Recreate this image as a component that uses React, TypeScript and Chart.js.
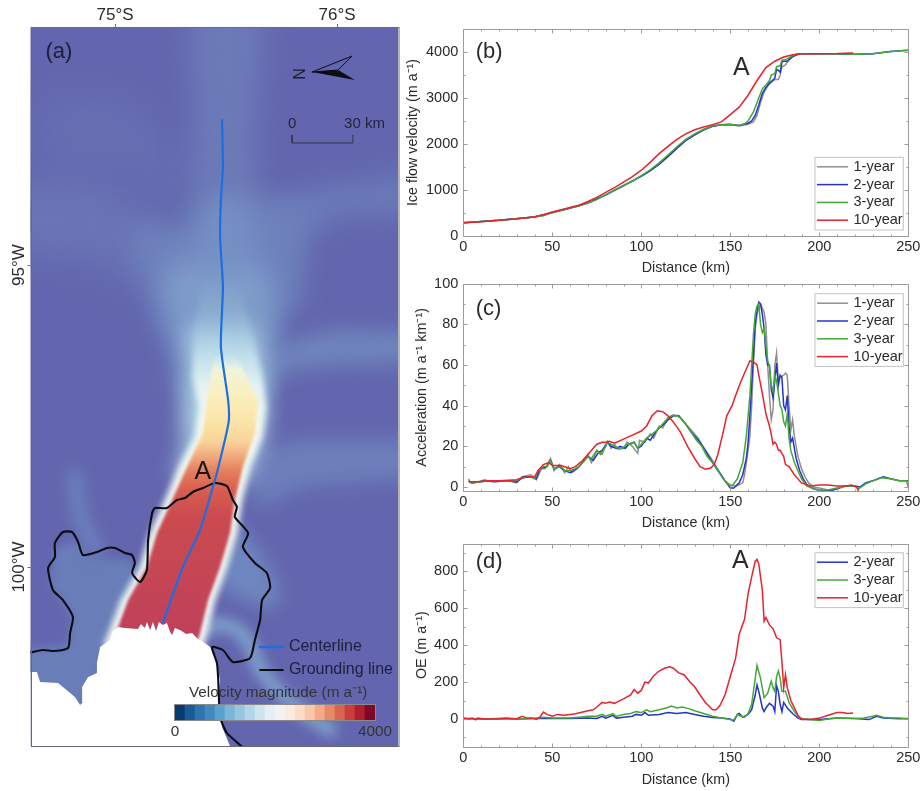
import React, { useEffect, useRef } from "react";
import { Chart, ScatterController, BarController, LineElement, PointElement, BarElement, LinearScale, CategoryScale, Filler } from "chart.js";

type Pt = number[];
const FONT = "'Liberation Sans', Arial, sans-serif";

// ---------- panel (b) ice flow velocity: [distance km, m/a]
const velocity1yr: Pt[] = [[0,290],[20,340],[40,415],[50,505],[60,605],[70,715],[80,890],[90,1090],[100,1295],[105,1415],[110,1555],[115,1725],[120,1905],[125,2075],[130,2200],[135,2305],[140,2385],[145,2420],[150,2425],[155,2390],[160,2430],[163,2480],[165,2620],[167,2900],[169,3130],[171,3260],[173,3340],[175,3400],[177,3400],[178,3500],[179,3680],[181,3720],[183,3840],[186,3920],[189,3960],[200,3960],[219,3960]];
const velocity2yr: Pt[] = [[0,290],[20,340],[40,415],[50,508],[60,608],[70,718],[80,895],[90,1095],[100,1300],[105,1420],[110,1560],[115,1730],[120,1910],[125,2080],[130,2200],[135,2310],[140,2385],[145,2420],[150,2425],[155,2400],[160,2450],[162,2500],[164,2620],[166,2850],[168,3100],[170,3230],[172,3330],[174,3390],[175,3430],[176,3620],[177,3600],[178,3560],[179,3780],[180,3800],[182,3800],[185,3900],[188,3950],[190,3960],[210,3960],[220,3950],[230,3960],[240,4010],[250,4040]];
const velocity3yr: Pt[] = [[0,290],[20,340],[40,415],[45,440],[50,510],[60,610],[65,650],[70,720],[75,790],[80,900],[85,1000],[90,1100],[95,1190],[100,1310],[105,1440],[110,1590],[115,1760],[120,1940],[125,2100],[130,2220],[135,2320],[140,2390],[145,2420],[150,2430],[155,2400],[158,2440],[160,2500],[163,2700],[166,3000],[168,3200],[170,3280],[172,3380],[173,3500],[175,3530],[176,3680],[178,3700],[179,3820],[181,3830],[184,3900],[187,3950],[190,3960],[200,3960],[210,3960],[220,3950],[230,3960],[240,4010],[250,4040]];
const velocity10yr: Pt[] = [[0,290],[10,310],[20,340],[30,370],[40,420],[45,460],[50,520],[60,620],[65,670],[70,750],[75,840],[80,950],[85,1050],[90,1170],[95,1290],[100,1430],[105,1600],[110,1790],[115,1950],[120,2100],[125,2220],[130,2310],[135,2370],[140,2420],[145,2480],[150,2640],[155,2800],[160,3060],[165,3380],[170,3660],[175,3800],[180,3890],[185,3940],[190,3960],[200,3960],[210,3965],[219,3980]];

// ---------- panel (c) acceleration
const accel1yr: Pt[] = [[3,4],[4,2],[8,2.5],[12,3.5],[16,2.5],[20,3],[26,3],[30,2],[33,5],[38,6],[41,3.5],[44,9],[46,9],[49,14],[51,8],[54,11],[57,7],[59,10],[61,7],[64,9],[67,12],[70,16],[72,12],[75,18],[78,16],[81,22.5],[83,19],[85,21],[87,18.5],[90,19],[92,22],[95,20],[98,16.5],[99,23],[102,22],[105,26],[107,24],[110,30],[112,29],[115,34],[118,35.5],[121,35],[124,32],[128,28],[132,24],[136,18],[140,13],[144,7],[147,3],[150,1],[153,0.5],[155,1],[157,2],[158,6],[160,18],[161,25],[162,40],[163,60],[164,78],[165,85],[166,88],[167,90],[168,88],[169,86],[170,80],[171,60],[172,45],[173,33],[174,38],[175,60],[176,66],[177,52],[178,54],[180,55],[181,56],[182,55],[183,40],[184,28],[185,33],[186,25],[188,15],[190,9],[192,5],[194,2],[197,0],[205,-1.5],[210,-1],[215,0.5],[220,0.5]];
const accel2yr: Pt[] = [[3,3],[5,2],[9,2.5],[13,3],[18,2.5],[24,3],[30,2.5],[34,5],[38,5],[41,4],[43,9],[47,10],[49,13],[51,9],[54,10],[57,8],[60,7],[62,8],[65,10],[68,13],[70,15],[73,13],[76,17],[78,18],[81,22],[83,20],[86,19],[88,20],[91,19],[93,21],[96,22],[98,19],[100,20],[103,24],[105,23],[108,27],[110,29],[113,31],[115,33],[118,35],[121,35],[124,32],[128,27],[132,23],[136,18],[140,12],[144,7],[147,3],[150,-0.5],[152,-0.5],[155,2],[157,6],[159,14],[160,22],[161,35],[162,50],[163,65],[164,80],[165,87],[166,91],[167,90],[168,85],[169,78],[170,65],[171,60],[172,60],[173,48],[174,44],[175,52],[176,61],[177,50],[178,55],[179,54],[180,40],[181,38],[182,45],[183,30],[184,22],[185,24],[187,14],[189,8],[191,4],[193,1],[197,-1],[202,-2],[208,-1.5],[214,0.5],[220,0.5],[223,0],[226,2],[230,3],[233,4],[236,5],[240,4],[245,3],[250,3]];
const accel3yr: Pt[] = [[3,3],[5,2],[10,2.5],[15,3],[20,3],[25,3],[30,3],[33,4.5],[38,5],[40,4],[42,8],[45,10],[47,10],[49,13],[51,9],[55,10],[57,8],[60,8],[63,9],[65,10],[68,13],[70,15],[72,14],[75,18],[77,16],[80,20],[81,22],[83,21],[85,20],[87,19],[90,19.5],[92,21],[94,21],[96,22],[98,19],[100,21],[103,24],[106,26],[109,28],[111,30],[113,32],[115,34],[117,35],[120,35],[122,34],[125,31],[128,27],[131,23],[134,20],[137,15],[140,12],[143,8],[146,4],[149,1],[151,0.5],[154,4],[157,12],[159,25],[161,45],[162,60],[163,75],[164,85],[165,89],[166,90],[167,80],[168,76],[169,78],[170,70],[171,62],[172,59],[173,50],[174,47],[175,55],[176,52],[177,46],[178,40],[179,38],[180,32],[181,30],[182,36],[183,24],[184,18],[186,12],[188,8],[190,4],[193,0.5],[197,-1],[200,-1.5],[205,-1.5],[210,-0.5],[215,0.5],[220,0.5],[222,-1],[226,1.5],[230,3],[235,4.5],[240,4],[245,3],[249,3],[250,0]];
const accel10yr: Pt[] = [[3,2.5],[10,2.5],[12,3],[20,3],[30,3.5],[33,4.5],[38,5],[40,5],[42,8],[45,11],[48,12],[50,10.5],[55,10.5],[60,9],[63,10],[67,13],[70,16],[75,21],[78,22],[80,22],[82,22.5],[85,21.5],[90,23.5],[95,25.5],[100,27.5],[103,30],[106,35],[109,37.5],[112,37],[115,35],[118,32],[122,27],[126,20],[130,14],[133,10],[136,8.7],[139,9.3],[141,11],[143,16],[146,27],[148,35],[151,40],[153,45],[156,52],[159,58],[161,62],[163,61.5],[165,60],[166,55],[168,46],[170,36],[172,30],[173,26],[174,21],[175,22],[176,21],[177,18],[178,18],[180,15],[181,11],[183,10],[186,6],[190,2],[195,0.5],[200,1],[205,1],[210,0.5],[215,0.5],[218,1],[221,0],[222,-2]];

// ---------- panel (d) OE
const oe2yr: Pt[] = [[0,3],[10,0],[20,3],[30,0],[40,3],[50,3],[60,3],[70,5],[75,3],[78,15],[80,5],[84,20],[86,5],[90,10],[95,15],[97,25],[100,20],[102,35],[104,20],[110,25],[115,35],[120,30],[125,35],[130,25],[135,15],[140,8],[145,5],[150,0],[152,-12],[154,25],[155,30],[157,10],[160,25],[162,50],[164,130],[165,185],[166,150],[168,60],[169,40],[170,60],[172,85],[174,70],[175,40],[176,180],[177,150],[178,80],[179,40],[180,90],[182,60],[185,30],[188,5],[190,-3],[200,-2],[210,5],[220,3],[228,-3],[232,15],[236,5],[245,2],[250,3]];
const oe3yr: Pt[] = [[0,3],[15,0],[30,2],[40,3],[45,10],[50,5],[55,5],[60,5],[65,10],[70,15],[75,15],[78,25],[80,15],[84,30],[86,15],[90,25],[94,30],[97,40],[100,35],[103,50],[105,40],[110,50],[114,60],[117,70],[120,60],[123,65],[127,55],[130,45],[135,30],[140,15],[145,5],[150,-3],[152,-5],[154,25],[156,15],[158,10],[160,30],[162,80],[164,220],[165,290],[167,220],[169,115],[171,140],[173,205],[174,170],[175,150],[176,230],[177,260],[178,220],[179,150],[181,150],[183,90],[186,40],[189,5],[191,0],[195,-3],[200,-8],[205,0],[210,5],[220,3],[225,5],[230,15],[232,20],[236,10],[240,5],[245,5],[250,0]];
const oe10yr: Pt[] = [[0,5],[3,0],[5,5],[7,-5],[8,5],[12,0],[20,2],[24,5],[30,2],[33,15],[36,5],[39,5],[41,-2],[43,10],[45,38],[47,25],[50,15],[53,25],[56,20],[60,25],[63,28],[66,35],[70,45],[73,50],[75,65],[78,90],[80,85],[82,92],[85,85],[88,100],[91,115],[94,130],[96,160],[98,140],[100,155],[102,200],[104,195],[107,235],[110,260],[113,275],[116,283],[118,275],[121,250],[124,240],[127,205],[130,175],[133,130],[136,90],[138,70],[140,50],[142,50],[144,70],[147,130],[150,230],[153,330],[155,460],[158,540],[160,680],[162,770],[164,855],[165,865],[166,840],[168,700],[169,530],[170,550],[172,510],[174,490],[176,440],[178,430],[179,310],[180,170],[181,240],[182,170],[184,100],[186,60],[188,20],[190,0],[195,-3],[200,5],[205,20],[210,35],[213,35],[216,30],[219,33]];

const seriesNames = ["1-year", "2-year", "3-year", "10-year"];
const seriesColors = ["#8f8f8f", "#2433cc", "#43a838", "#e8222f"];
const distanceTicks = [0, 50, 100, 150, 200, 250];
const distanceMinor = [10,20,30,40,60,70,80,90,110,120,130,140,160,170,180,190,210,220,230,240];
const velocityTicks = [0, 1000, 2000, 3000, 4000];
const velocityMinor = [500, 1500, 2500, 3500, 4500];
const accelTicks = [0, 20, 40, 60, 80, 100];
const accelMinor = [10, 30, 50, 70, 90];
const oeTicks = [0, 200, 400, 600, 800];
const oeMinor = [-100, 100, 300, 500, 700, 900];

// ---------- panel (a) map geometry, in km from the frame's top-left corner
const mapWidthKm = 183.75;
const mapHeightKm = 359.5;
const latTickKm = [42.25, 153.25];
const latTickLabels = ["75°S", "76°S"];
const lonTickKm = [119, 270];
const lonTickLabels = ["95°W", "100°W"];

const centerline: Pt[] = [[95.8,46.5],[96.2,70],[95.2,86.5],[94.8,105],[96.2,130],[95.2,160],[98.8,186.5],[99.2,196.5],[97.2,206.5],[93.2,223],[91.2,230],[84.8,251.5],[76.2,270],[66.2,298]];
const groundingLine: Pt[] = [[-1,313],[6.2,311.5],[12,312],[18.8,310.5],[19.8,303],[21.2,295],[16.2,286.5],[11.2,281.5],[8.8,270.5],[12.2,265],[12.2,258],[16.2,252.5],[20.8,252.5],[23.8,257.5],[26.2,264],[33.2,262.5],[38.2,260.5],[42.2,260.5],[47.2,263],[50.8,264],[52.2,268],[50.8,273],[54.8,277.5],[58.2,271.5],[58.8,256.5],[60.8,243],[62.2,240.5],[68.2,240.5],[73.2,236.5],[77.2,235.5],[81.2,232.5],[86.2,230.5],[92.2,228],[98.2,229.5],[101.2,236.5],[103.2,240],[102.2,245],[108.8,253],[106.2,260],[112.2,268],[118.2,273],[119.8,280.5],[115.8,286.5],[114.8,296.5],[112.2,306.5],[109.8,315.5],[101.2,317.5],[96.2,311.5],[90.8,310],[93.2,318],[93.8,325],[94.8,345],[98.2,353],[104.8,359],[108.8,362.5]];
const noDataMask: Pt[] = [[43.8,300],[47.2,300.5],[53.8,301],[55.2,298.5],[57.2,300.5],[58.2,297.5],[59.8,301.5],[61.2,297.5],[62.8,302],[64.2,297.5],[66.2,299],[68.2,298],[69.8,302.5],[70.8,304],[72.2,300.5],[74.8,301.5],[77.8,303.5],[80.8,303],[83.2,305.5],[87.8,308.5],[89.8,310],[93.2,318],[94.8,326.5],[93.8,336.5],[95.8,350],[100.8,362],[-5,362],[-5,322.5],[3.2,322.5],[4.8,327.5],[13.8,328],[22.2,335],[24.8,339],[26.2,337.5],[25.8,330],[28.8,325],[33.2,323],[33.2,318],[34.8,310],[39.8,306.5],[40.8,302.5]];
const streamCore: Pt[] = [[91.8,164],[88.2,186.5],[86.2,203],[78.2,220],[70.8,236.5],[63.2,253],[58.2,270],[48.8,286.5],[43.8,300],[40.8,306.5],[82.2,311.5],[84.8,303],[88.8,286.5],[94.8,270],[99.8,253],[102.2,236.5],[106.2,220],[112.2,203],[113.8,186.5],[102.8,164]];
const streamHalo: Pt[] = [[87,125],[82,150],[81,175],[84,190],[82,205],[74,220],[67,236.5],[59.5,253],[54.5,270],[45,286.5],[40,300],[36,310],[86,312],[88.5,303],[92.5,286.5],[98.5,270],[103.5,253],[106,236.5],[110,220],[116,205],[118,190],[116,175],[110,150],[103,125]];
const fanUpper: Pt[] = [[88,85],[110,85],[120,135],[122,156],[116,186],[77,186],[70,156],[68,135]];
const fanOuter: Pt[] = [[67,121.5],[117,121.5],[120,156.5],[116,186.5],[77,186.5],[77,161.5]];
const fanInner: Pt[] = [[78,150],[112,150],[116,170],[119,196.5],[115,211.5],[110,226.5],[72,226.5],[77,206.5],[75,196.5],[80,170]];
const topColumn: Pt[] = [[78,-25],[119,-25],[112,61],[117,86],[112,136],[82,136],[80,86],[81,36]];
const leftBand: Pt[] = [[-30,76],[35,78],[70,98],[85,131.5],[85,156.5],[72,156.5],[55,129],[30,115.5],[-30,111.5]];
const leftInner: Pt[] = [[51,101.5],[82,101.5],[85,156.5],[67,151.5]];
const leftFaint: Pt[] = [[5,34],[50,36.5],[75,66.5],[85,101.5],[80,101.5],[60,76.5],[40,71.5],[5,71.5]];
const rightUpperBand: Pt[] = [[210,71.5],[135,81.5],[115,101.5],[112,141.5],[127,136.5],[135,106.5],[155,94],[210,91.5]];
const rightInner: Pt[] = [[110,86.5],[135,86.5],[135,136.5],[115,156.5],[105,156.5]];
const rightMidBand: Pt[] = [[116,170],[126,158],[151,151.5],[210,153],[210,167.5],[151,169],[126,172.5],[116,181.5]];
const rightLowerBand: Pt[] = [[115,211.5],[135,206.5],[210,206.5],[210,224],[135,230],[120,238],[108,238]];
const rightShelf: Pt[] = [[102,246],[117,266],[125,281],[122,291],[112,289],[97,281],[90,281]];
const leftShelf: Pt[] = [[9.8,279],[12.2,261.5],[22.2,256.5],[29.8,265.5],[49.8,266.5],[57.2,279],[62.2,256.5],[64.8,254],[48.8,286.5],[39.8,306.5],[32.2,326.5],[24.8,341.5],[-8,326.5],[-8,311.5],[18.8,309],[20.8,294]];
const arcStream: Pt[] = [[87.2,301.5],[93.8,298.5],[103.8,301.5],[109.8,309],[113.8,319],[120.8,329],[134.8,341.5],[149.8,351.5]];
const leftArc: Pt[] = [[22,225],[25,245],[33,262]];
const scaleBar: Pt[] = [[130.8,54],[130.8,58],[161.2,58],[161.2,54]];
const northLeft: Pt[] = [[140.8,22.5],[160.8,14.5],[153.8,21.5]];
const northRight: Pt[] = [[140.8,22.5],[153.8,21.5],[162.2,26.5]];
const legendCenterline: Pt[] = [[114.8,310],[126.2,310]];
const legendGrounding: Pt[] = [[114.8,321.5],[126.2,321.5]];

const colorbarSteps = ["0-200","200-400","400-600","600-800","800-1000","1000-1200","1200-1400","1400-1600","1600-1800","1800-2000","2000-2200","2200-2400","2400-2600","2600-2800","2800-3000","3000-3200","3200-3400","3400-3600","3600-3800","3800-4000"];
const colorbarValues = [1,1,1,1,1,1,1,1,1,1,1,1,1,1,1,1,1,1,1,1];
const colorbarColors = ["#0b3a6e","#1a5a97","#2f74b0","#4389bd","#5aa2cb","#79b6d8","#97c7e0","#b3d5e7","#cfe3ee","#e4eef4","#f1f2f3","#f9ecdf","#fbdcc7","#f9c6aa","#f2aa88","#e58a69","#d8654f","#c93d3c","#b01f30","#7c0a26"];

const toXY = (a: Pt[]) => a.map(([x, y]) => ({ x, y }));

// Per-dataset blur, must run before Filler paints the dataset's fill.
const blurPlugin = {
  id: "datasetBlur",
  beforeDatasetDraw(chart: any, args: any) {
    const b = chart.data.datasets[args.index].blurPx;
    if (b) chart.ctx.filter = `blur(${b}px)`;
  },
  afterDatasetDraw(chart: any, args: any) {
    if (chart.data.datasets[args.index].blurPx) chart.ctx.filter = "none";
  },
};
Chart.register(blurPlugin);
Chart.register(ScatterController, BarController, LineElement, PointElement, BarElement, LinearScale, CategoryScale, Filler);

const textPlugin = {
  id: "texts",
  afterDatasetsDraw(chart: any, _a: any, opts: any) {
    const { ctx, scales } = chart;
    for (const t of opts.items || []) {
      ctx.save();
      ctx.fillStyle = t.color || "#2b2b2b";
      ctx.font = `${t.size}px ${FONT}`;
      ctx.textAlign = t.align || "left";
      ctx.textBaseline = "middle";
      ctx.fillText(t.text, scales.x.getPixelForValue(t.x), scales.y.getPixelForValue(t.y));
      ctx.restore();
    }
  },
};

const framePlugin = {
  id: "frameTicks",
  afterDatasetsDraw(chart: any, _a: any, o: any) {
    const { ctx, chartArea: c, scales } = chart;
    ctx.save();
    ctx.strokeStyle = "#9c9c9c";
    ctx.lineWidth = 1;
    const L = Math.round(c.left) + 0.5, R = Math.round(c.right) + 0.5, T = Math.round(c.top) + 0.5, B = Math.round(c.bottom) + 0.5;
    ctx.beginPath();
    const vert = (v: number, n: number) => {
      const x = Math.round(scales.x.getPixelForValue(v)) + 0.5;
      ctx.moveTo(x, B); ctx.lineTo(x, B - n);
      ctx.moveTo(x, T); ctx.lineTo(x, T + n);
    };
    const horz = (v: number, n: number) => {
      const y = Math.round(scales.y.getPixelForValue(v)) + 0.5;
      ctx.moveTo(L, y); ctx.lineTo(L + n, y);
      ctx.moveTo(R, y); ctx.lineTo(R - n, y);
    };
    o.xMajor.forEach((v: number) => vert(v, 4));
    o.xMinor.forEach((v: number) => vert(v, 2));
    o.yMajor.forEach((v: number) => horz(v, 4));
    o.yMinor.forEach((v: number) => horz(v, 2));
    ctx.rect(L, T, R - L, B - T);
    ctx.stroke();
    ctx.restore();
  },
};

const boxLegend = {
  id: "boxLegend",
  afterDatasetsDraw(chart: any, _a: any, o: any) {
    const { ctx, chartArea: c } = chart;
    const ds = chart.data.datasets;
    const rowH = 17.8;
    const left = c.right - 93.3;
    const top = c.top + o.offsetTop;
    const w = 88.3;
    const h = ds.length * rowH + 1.5;
    ctx.save();
    ctx.fillStyle = "#fff";
    ctx.strokeStyle = "#c4c4c4";
    ctx.lineWidth = 1;
    ctx.fillRect(left, top, w, h);
    ctx.strokeRect(left, top, w, h);
    ctx.font = `14.5px ${FONT}`;
    ctx.textBaseline = "middle";
    ds.forEach((d: any, i: number) => {
      const y = top + 9.5 + i * rowH;
      ctx.strokeStyle = d.borderColor;
      ctx.lineWidth = 1.5;
      ctx.beginPath();
      ctx.moveTo(left + 2, y);
      ctx.lineTo(left + 33, y);
      ctx.stroke();
      ctx.fillStyle = "#2b2b2b";
      ctx.fillText(d.label, left + 38.5, y);
    });
    ctx.restore();
  },
};

function lineChart(canvas: HTMLCanvasElement, p: any) {
  const n = p.series.length;
  return new Chart(canvas, {
    type: "scatter",
    data: {
      datasets: p.series.map((s: Pt[], i: number) => ({
        label: p.names[i],
        data: toXY(s),
        showLine: true,
        borderColor: p.colors[i],
        borderWidth: 1.5,
        pointRadius: 0,
        tension: 0,
        order: n - i,
      })),
    },
    plugins: [framePlugin, boxLegend, textPlugin],
    options: {
      animation: false,
      responsive: false,
      events: [],
      layout: { padding: { left: 0, top: p.padTop, right: 15.7, bottom: 0 } },
      scales: {
        x: {
          type: "linear", min: 0, max: 250,
          grid: { display: false, drawTicks: false }, border: { display: false },
          afterBuildTicks: (s: any) => { s.ticks = distanceTicks.map((value) => ({ value })); },
          afterFit: (s: any) => { s.height = p.xAxisH; },
          ticks: { autoSkip: false, maxRotation: 0, padding: 2.5, color: "#2b2b2b", font: { size: 14.5, family: FONT }, callback: (v: any) => String(v) },
          title: { display: true, text: "Distance (km)", color: "#2b2b2b", font: { size: 14.3, family: FONT }, padding: { top: 0, bottom: p.xTitlePad } },
        },
        y: {
          type: "linear", min: p.yMin, max: p.yMax,
          grid: { display: false, drawTicks: false }, border: { display: false },
          afterBuildTicks: (s: any) => { s.ticks = p.yTicks.map((value: number) => ({ value })); },
          afterFit: (s: any) => { s.width = 63.3; },
          ticks: { autoSkip: false, padding: 5, color: "#2b2b2b", font: { size: 14.5, family: FONT }, callback: (v: any) => String(v) },
          title: { display: true, text: p.yTitle, color: "#2b2b2b", font: { size: 14.3, family: FONT }, padding: { top: p.yTitlePad, bottom: 0 } },
        },
      },
      plugins: {
        frameTicks: { xMajor: distanceTicks, xMinor: distanceMinor, yMajor: p.yTicks, yMinor: p.yMinor },
        boxLegend: { offsetTop: p.legendTop },
        texts: { items: p.texts },
      },
    } as any,
  } as any);
}

const streamGradient = (stops: [number, string][]) => (c: any) => {
  const { ctx, scales } = c.chart;
  const y0 = scales.y ? scales.y.getPixelForValue(stops[0][0]) : NaN;
  const y1 = scales.y ? scales.y.getPixelForValue(stops[stops.length - 1][0]) : NaN;
  if (!Number.isFinite(y0) || !Number.isFinite(y1)) return stops[0][1];
  const g = ctx.createLinearGradient(0, y0, 0, y1);
  const span = stops[stops.length - 1][0] - stops[0][0];
  for (const [v, col] of stops) g.addColorStop((v - stops[0][0]) / span, col);
  return g;
};
const coreStops: [number, string][] = [[164,"rgba(223,240,238,0)"],[172,"#f3f3d8"],[185,"#faeebb"],[198,"#fbe3a6"],[207,"#f8d49a"],[214,"#f2ad7e"],[222,"#e47e5e"],[232,"#d75c4f"],[245,"#cb4a4f"],[300,"#c0415a"]];
const haloStops: [number, string][] = [[125,"rgba(150,185,215,0)"],[150,"rgba(160,198,222,0.55)"],[165,"rgba(200,228,238,0.85)"],[180,"#e6f3f3"],[195,"#f0f8f2"],[310,"#eef7f2"]];

const area = (data: Pt[], color: any, blurPx: number) => ({ data: toXY(data), showLine: true, fill: "shape", backgroundColor: color, borderWidth: 0, borderColor: "rgba(0,0,0,0)", pointRadius: 0, tension: 0, blurPx });
const stroke = (data: Pt[], color: string, width: number, blurPx = 0, tension = 0.2) => ({ data: toXY(data), showLine: true, fill: false, borderColor: color, borderWidth: width, pointRadius: 0, tension, blurPx, borderCapStyle: "round", borderJoinStyle: "round" });

const mapDecor = {
  id: "mapDecor",
  beforeDatasetsDraw(chart: any) {
    const { ctx, chartArea: c } = chart;
    ctx.save();
    ctx.fillStyle = "#6366ae";
    ctx.fillRect(c.left, c.top, c.right - c.left, c.bottom - c.top);
    ctx.restore();
  },
  afterDatasetsDraw(chart: any) {
    const { ctx, chartArea: c, scales } = chart;
    ctx.save();
    ctx.strokeStyle = "#666a78";
    ctx.lineWidth = 1;
    ctx.strokeRect(Math.round(c.left) + 0.5, Math.round(c.top) + 0.5, c.width, c.height);
    ctx.fillStyle = "#2b2b2b";
    ctx.font = `17px ${FONT}`;
    ctx.textAlign = "center";
    ctx.textBaseline = "middle";
    lonTickKm.forEach((v, i) => {
      const y = scales.y.getPixelForValue(v);
      ctx.beginPath();
      ctx.moveTo(c.left - 3, y + 0.5);
      ctx.lineTo(c.left, y + 0.5);
      ctx.stroke();
      ctx.save();
      ctx.translate(c.left - 11.5, y);
      ctx.rotate(-Math.PI / 2);
      ctx.fillText(lonTickLabels[i], 0, 0);
      ctx.restore();
    });
    latTickKm.forEach((v) => {
      const x = scales.x.getPixelForValue(v);
      ctx.beginPath();
      ctx.moveTo(x + 0.5, c.top - 3);
      ctx.lineTo(x + 0.5, c.top);
      ctx.stroke();
    });
    // rotated N of the north arrow
    ctx.save();
    ctx.translate(scales.x.getPixelForValue(134.8), scales.y.getPixelForValue(23.5));
    ctx.rotate(-Math.PI / 2);
    ctx.fillStyle = "#1b1b2e";
    ctx.font = `16px ${FONT}`;
    ctx.fillText("N", 0, 0);
    ctx.restore();
    ctx.restore();
  },
};

function mapChart(canvas: HTMLCanvasElement) {
  const layers: any[] = [
    area(leftFaint, "#676fb2", 18),
    area(topColumn, "#6c7ab8", 14),
    area(leftBand, "#6a75b5", 18),
    area(leftInner, "#6f85bf", 14),
    area(rightUpperBand, "#6b7cb9", 14),
    area(rightInner, "#6e82bc", 14),
    area(rightMidBand, "#6f85bd", 10),
    area(rightLowerBand, "#6d7fbb", 10),
    area(leftShelf, "#697eb9", 4),
    stroke(leftArc, "#6c80bb", 16, 7),
    area(rightShelf, "#6f87bf", 9),
    stroke(arcStream, "#7d9cc9", 15, 6),
    area(fanUpper, "#7590c4", 14),
    area(fanOuter, "#7f9dca", 12),
    area(fanInner, "#a8cbe0", 10),
    area(streamHalo, streamGradient(haloStops), 3),
    area(streamCore, streamGradient(coreStops), 1.5),
    area(noDataMask, "#ffffff", 0),
    stroke(groundingLine, "#0c0c14", 2.1),
    stroke(centerline, "#1c6fe0", 2.2),
    stroke(legendCenterline, "#1c6fe0", 2.5, 0, 0),
    stroke(legendGrounding, "#0c0c14", 2, 0, 0),
    stroke(scaleBar, "#33364d", 1, 0, 0),
    area(northLeft, "#6366ae", 0),
    stroke([...northLeft, northLeft[0]], "#0c0c14", 1, 0, 0),
    area(northRight, "#0c0c14", 0),
  ];
  layers.forEach((d, i) => { d.order = layers.length - i; });
  return new Chart(canvas, {
    type: "scatter",
    data: { datasets: layers },
    plugins: [mapDecor, textPlugin],
    options: {
      animation: false,
      responsive: false,
      events: [],
      layout: { padding: { left: 30.5, top: 0, right: 12, bottom: 14 } },
      scales: {
        x: {
          type: "linear", position: "top", min: 0, max: mapWidthKm,
          grid: { display: false, drawTicks: false }, border: { display: false },
          afterBuildTicks: (s: any) => { s.ticks = latTickKm.map((value) => ({ value })); },
          afterFit: (s: any) => { s.height = 27; },
          ticks: { autoSkip: false, maxRotation: 0, padding: 1.8, color: "#2b2b2b", font: { size: 17, family: FONT }, callback: (v: any) => latTickLabels[latTickKm.indexOf(v)] },
        },
        y: {
          type: "linear", reverse: true, min: 0, max: mapHeightKm,
          grid: { display: false }, border: { display: false }, ticks: { display: false },
          afterFit: (s: any) => { s.width = 0; },
        },
      },
      plugins: {
        texts: {
          items: [
            { text: "(a)", x: 7.5, y: 12.5, size: 22, color: "#1b1d3c" },
            { text: "A", x: 82, y: 222.5, size: 25, color: "#1a1410" },
            { text: "0", x: 130.8, y: 48.5, size: 15, align: "center", color: "#22253f" },
            { text: "30 km", x: 156.8, y: 48.5, size: 15, color: "#22253f" },
            { text: "Centerline", x: 129.2, y: 310, size: 16, color: "#1c1f3f" },
            { text: "Grounding line", x: 129.2, y: 321.5, size: 16, color: "#1c1f3f" },
            { text: "Velocity magnitude (m a⁻¹)", x: 123.8, y: 332.8, size: 15.3, align: "center", color: "#333" },
            { text: "0", x: 72.2, y: 352.4, size: 15.3, align: "center", color: "#333" },
            { text: "4000", x: 172.2, y: 352.4, size: 15.3, align: "center", color: "#333" },
          ],
        },
      },
    } as any,
  } as any);
}

function colorbarChart(canvas: HTMLCanvasElement) {
  return new Chart(canvas, {
    type: "bar",
    data: { labels: colorbarSteps, datasets: [{ data: colorbarValues, backgroundColor: colorbarColors, barPercentage: 1, categoryPercentage: 1, borderWidth: 0 }] },
    options: {
      animation: false,
      responsive: false,
      events: [],
      layout: { padding: 0 },
      scales: { x: { type: "category", display: false }, y: { type: "linear", display: false, min: 0, max: 1 } },
      plugins: { legend: { display: false } },
    } as any,
  } as any);
}

const canvasStyle = (left: number, top: number): React.CSSProperties => ({ position: "absolute", left, top, filter: "blur(0.45px)" });

export default function App() {
  const mapRef = useRef<HTMLCanvasElement>(null);
  const barRef = useRef<HTMLCanvasElement>(null);
  const bRef = useRef<HTMLCanvasElement>(null);
  const cRef = useRef<HTMLCanvasElement>(null);
  const dRef = useRef<HTMLCanvasElement>(null);
  useEffect(() => {
    const charts = [
      mapChart(mapRef.current!),
      colorbarChart(barRef.current!),
      lineChart(bRef.current!, {
        series: [velocity1yr, velocity2yr, velocity3yr, velocity10yr], names: seriesNames, colors: seriesColors,
        padTop: 29, xAxisH: 44, xTitlePad: 3.6, yTitlePad: 4, legendTop: 128.3,
        yMin: 0, yMax: 4500, yTicks: velocityTicks, yMinor: velocityMinor, yTitle: "Ice flow velocity (m a⁻¹)",
        texts: [{ text: "(b)", x: 7, y: 4000, size: 22 }, { text: "A", x: 151.5, y: 3650, size: 25 }],
      }),
      lineChart(cRef.current!, {
        series: [accel1yr, accel2yr, accel3yr, accel10yr], names: seriesNames, colors: seriesColors,
        padTop: 12.7, xAxisH: 43, xTitlePad: 2.6, yTitlePad: 13.3, legendTop: 10,
        yMin: -2, yMax: 100, yTicks: accelTicks, yMinor: accelMinor, yTitle: "Acceleration (m a⁻¹ km⁻¹)",
        texts: [{ text: "(c)", x: 7, y: 87.6, size: 22 }],
      }),
      lineChart(dRef.current!, {
        series: [oe2yr, oe3yr, oe10yr], names: seriesNames.slice(1), colors: seriesColors.slice(1),
        padTop: 9, xAxisH: 44.3, xTitlePad: 2.6, yTitlePad: 13.3, legendTop: 9,
        yMin: -150, yMax: 950, yTicks: oeTicks, yMinor: oeMinor, yTitle: "OE (m a⁻¹)",
        texts: [{ text: "(d)", x: 7, y: 853, size: 22 }, { text: "A", x: 151, y: 853, size: 25 }],
      }),
    ];
    return () => charts.forEach((c) => c.destroy());
  }, []);
  return (
    <div style={{ position: "absolute", left: 0, top: 0, width: 924, height: 791, background: "#fff", overflow: "hidden" }}>
      <canvas ref={mapRef} width={410} height={760} style={canvasStyle(0, 0)} />
      <canvas ref={barRef} width={200} height={15} style={{ ...canvasStyle(175, 705), outline: "1px solid #8a8a8a" }} />
      <canvas ref={bRef} width={524} height={280} style={canvasStyle(400, 0)} />
      <canvas ref={cRef} width={524} height={264} style={canvasStyle(400, 270)} />
      <canvas ref={dRef} width={524} height={261} style={canvasStyle(400, 530)} />
    </div>
  );
}
